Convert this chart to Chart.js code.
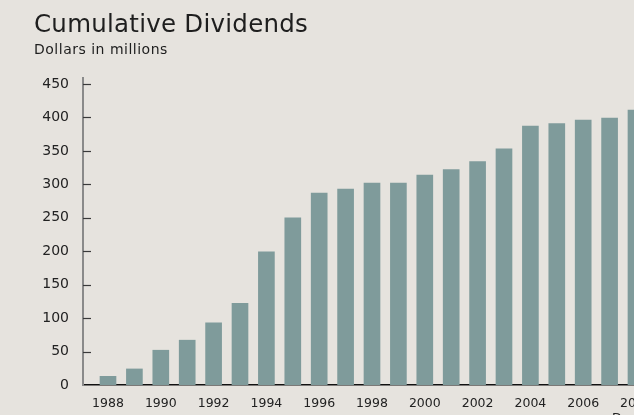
<!DOCTYPE html>
<html>
<head>
<meta charset="utf-8">
<script src="https://cdn.jsdelivr.net/npm/chart.js@4"></script>
<style>
  html, body { margin:0; padding:0; width:634px; height:415px; overflow:hidden; background:#e6e3de; }
  #wrap { position:absolute; left:0; top:0; width:680px; height:415px; }
  #title { position:absolute; left:34px; top:9px; font-family:"DejaVu Sans", sans-serif; font-size:24.5px; letter-spacing:0.25px; color:#1e1e1e; white-space:nowrap; }
  #sub { position:absolute; left:34px; top:41px; font-family:"DejaVu Sans", sans-serif; font-size:14px; letter-spacing:0.5px; color:#1e1e1e; white-space:nowrap; }
</style>
</head>
<body>
<div id="wrap"><canvas id="c" width="680" height="415"></canvas></div>
<div id="title">Cumulative Dividends</div>
<div id="sub">Dollars in millions</div>
<script>
const years = [1988,1989,1990,1991,1992,1993,1994,1995,1996,1997,1998,1999,2000,2001,2002,2003,2004,2005,2006,2007,2008];
const dividends = [13,24,52,67,93,122,199,250,287,293,302,302,314,322,334,353,387,391,396,399,411];
const xTickYears = [1988,1990,1992,1994,1996,1998,2000,2002,2004,2006,2008];
const yTickValues = [0,50,100,150,200,250,300,350,400,450];
const lastTickNote = "Dec. 31";

const tickMarks = {
  id: 'tickMarks',
  afterDatasetsDraw(chart) {
    const y = chart.scales.y, ctx = chart.ctx, left = chart.chartArea.left;
    ctx.save();
    ctx.strokeStyle = '#3a3a3a';
    ctx.lineWidth = 1.2;
    y.ticks.forEach(t => {
      const py = Math.round(y.getPixelForValue(t.value)) + 0.5;
      if (t.value === 0) return;
      ctx.beginPath(); ctx.moveTo(left, py); ctx.lineTo(left + 8, py); ctx.stroke();
    });
    ctx.restore();
  }
};

new Chart(document.getElementById('c'), {
  type: 'bar',
  data: {
    datasets: [{
      data: years.map((yr, i) => ({ x: yr, y: dividends[i] })),
      backgroundColor: '#7f9b9b',
      barThickness: 16
    }]
  },
  options: {
    responsive: false,
    animation: false,
    layout: { padding: { top: 78, right: 0, bottom: 0, left: 0 } },
    plugins: { legend: { display: false }, tooltip: { enabled: false } },
    scales: {
      x: {
        type: 'linear',
        offset: false,
        min: 1987.053,
        max: 2009.667,
        grid: { display: false, offset: false },
        border: { display: true, color: '#111', width: 1.5 },
        afterBuildTicks: s => { s.ticks = xTickYears.map(v => ({ value: v })); },
        afterFit: s => { s.height = 30; },
        ticks: {
          autoSkip: false,
          maxRotation: 0,
          padding: 3,
          color: '#222',
          font: { family: 'DejaVu Sans', size: 12.5 },
          callback: v => v === xTickYears[xTickYears.length - 1] ? [String(v), lastTickNote] : String(v)
        }
      },
      y: {
        min: 0,
        max: 459,
        grid: { display: false },
        border: { display: true, color: '#8a8a8a', width: 2 },
        afterBuildTicks: s => { s.ticks = yTickValues.map(v => ({ value: v })); },
        afterFit: s => { s.width = 83; },
        ticks: {
          padding: 6,
          color: '#222',
          font: { family: 'DejaVu Sans', size: 14 }
        }
      }
    }
  },
  plugins: [tickMarks]
});
</script>
</body>
</html>
